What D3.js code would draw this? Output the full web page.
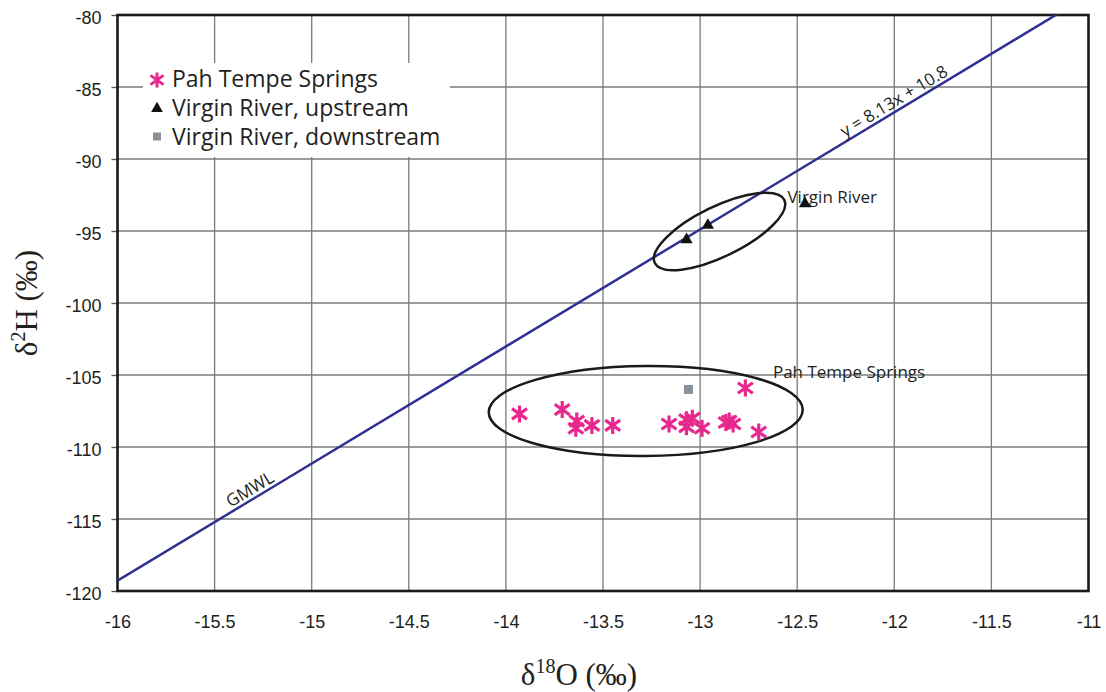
<!DOCTYPE html>
<html><head><meta charset="utf-8">
<script src="https://cdn.jsdelivr.net/npm/d3@7"></script>
<style>body{margin:0;background:#fff}svg{display:block}</style>
</head><body>
<svg id="c" width="1106" height="692"></svg>
<script>
// ---- data ----
const pahO = [-13.93, -13.71, -13.635, -13.64, -13.557, -13.45, -13.16, -13.07, -13.04, -13.07, -12.99, -12.867, -12.85, -12.83, -12.767, -12.698];
const pahH = [-107.7, -107.4, -108.2, -108.7, -108.5, -108.5, -108.4, -108.1, -108.0, -108.6, -108.7, -108.3, -108.2, -108.4, -105.9, -108.96];
const upO = [-13.07, -12.96, -12.46];
const upH = [-95.6, -94.6, -93.1];
const downO = [-13.06];
const downH = [-106.0];
const xTicks = [-16, -15.5, -15, -14.5, -14, -13.5, -13, -12.5, -12, -11.5, -11];
const yTicks = [-80, -85, -90, -95, -100, -105, -110, -115, -120];
const gmwlSlope = 8.13, gmwlIntercept = 10.8;
const legendLabels = ["Pah Tempe Springs", "Virgin River, upstream", "Virgin River, downstream"];
const groupCenters = [{name: "Virgin River", o: -12.90, h: -95.03}, {name: "Pah Tempe Springs", o: -13.28, h: -107.5}];
const labelPos = [{text: "Virgin River", o: -12.55, h: -93.06}, {text: "Pah Tempe Springs", o: -12.625, h: -105.2}];

// ---- scales ----
const svg = d3.select("#c");
const x = d3.scaleLinear().domain([-16, -11]).range([117.5, 1088.5]);
const y = d3.scaleLinear().domain([-80, -120]).range([15, 591]);
const pink = "#e8288c", blue = "#2e3192", ink = "#231f20";

// grid
svg.append("g").selectAll("line").data(xTicks.slice(1, -1)).join("line")
  .attr("x1", d => x(d)).attr("x2", d => x(d)).attr("y1", y(-80)).attr("y2", y(-120))
  .attr("stroke", "#7a7a7a").attr("stroke-width", 1.3);
svg.append("g").selectAll("line").data(yTicks.slice(1, -1)).join("line")
  .attr("y1", d => y(d)).attr("y2", d => y(d)).attr("x1", x(-16)).attr("x2", x(-11))
  .attr("stroke", "#7a7a7a").attr("stroke-width", 1.3);

// y axis ticks & labels
const yAxis = d3.axisLeft(y).tickValues(yTicks).tickSize(6).tickPadding(10).tickFormat(d => String(d));
const gy = svg.append("g").attr("transform", `translate(${x(-16)},0)`).call(yAxis);
gy.select(".domain").remove();
gy.selectAll(".tick line").attr("stroke", "#555").attr("stroke-width", 1.3);
gy.selectAll(".tick text").attr("font-family", "Liberation Sans, Arial, sans-serif").attr("font-size", 18).attr("fill", ink).attr("dy", "0.45em");

// x axis labels
const xAxis = d3.axisBottom(x).tickValues(xTicks).tickSize(0).tickPadding(24).tickFormat(d => String(d));
const gx = svg.append("g").attr("transform", `translate(0,${y(-120)})`).call(xAxis);
gx.select(".domain").remove();
gx.selectAll(".tick text").attr("font-family", "Liberation Sans, Arial, sans-serif").attr("font-size", 18).attr("fill", ink);

// frame
svg.append("rect").attr("x", x(-16)).attr("y", y(-80)).attr("width", x(-11) - x(-16)).attr("height", y(-120) - y(-80))
  .attr("fill", "none").attr("stroke", "#1a1a1a").attr("stroke-width", 2.6);

// clip for GMWL
svg.append("clipPath").attr("id", "pc").append("rect").attr("x", x(-16)).attr("y", y(-80)).attr("width", x(-11) - x(-16)).attr("height", y(-120) - y(-80));

// GMWL
const line = d3.line().x(d => x(d)).y(d => y(gmwlSlope * d + gmwlIntercept));
svg.append("path").attr("clip-path", "url(#pc)").datum([-16, -11]).attr("d", line)
  .attr("fill", "none").attr("stroke", blue).attr("stroke-width", 2.5);
const ang = Math.atan2(y(gmwlSlope * -11 + gmwlIntercept) - y(gmwlSlope * -16 + gmwlIntercept), x(-11) - x(-16)) * 180 / Math.PI;
function lineLabel(o, txt, off) {
  svg.append("text").attr("transform", `translate(${x(o)},${y(gmwlSlope * o + gmwlIntercept)}) rotate(${ang}) translate(0,${-off})`)
    .attr("text-anchor", "middle").attr("font-family", "Open Sans, sans-serif").attr("font-size", 17).attr("fill", ink).text(txt);
}
lineLabel(-11.976, "y = 8.13x + 10.8", 4);
lineLabel(-15.292, "GMWL", 4);

// ellipses
const ellSize = [{rx: 72, ry: 25, rot: -26}, {rx: 157, ry: 45, rot: -0.5}];
groupCenters.forEach((c, i) => {
  svg.append("ellipse").attr("cx", 0).attr("cy", 0).attr("rx", ellSize[i].rx).attr("ry", ellSize[i].ry)
    .attr("transform", `translate(${x(c.o)},${y(c.h)}) rotate(${ellSize[i].rot})`)
    .attr("fill", "none").attr("stroke", "#1a1a1a").attr("stroke-width", 2.5);
});
labelPos.forEach(l => {
  svg.append("text").attr("x", x(l.o)).attr("y", y(l.h)).attr("font-family", "Open Sans, sans-serif")
    .attr("font-size", 17).attr("fill", ink).text(l.text);
});

// markers
function star(g, cx, cy, w, h, sw) {
  const p = `M${cx},${cy - h}L${cx},${cy + h}M${cx - w},${cy - h * 0.62}L${cx + w},${cy + h * 0.62}M${cx - w},${cy + h * 0.62}L${cx + w},${cy - h * 0.62}`;
  g.append("path").attr("d", p).attr("stroke", pink).attr("stroke-width", sw).attr("fill", "none");
}
const tri = d3.symbol().type(d3.symbolTriangle);
const ptsG = svg.append("g");
pahO.forEach((o, i) => star(ptsG, x(o), y(pahH[i]), 7.5, 8.5, 3.2));
ptsG.selectAll("path.up").data(upO).join("path").attr("class", "up")
  .attr("d", tri.size(65)).attr("transform", (d, i) => `translate(${x(d)},${y(upH[i])})`).attr("fill", "#111");
ptsG.selectAll("rect.dn").data(downO).join("rect").attr("class", "dn")
  .attr("x", d => x(d) - 4.5).attr("y", (d, i) => y(downH[i]) - 4.5).attr("width", 9).attr("height", 9).attr("fill", "#8a9198");

// legend
const lg = svg.append("g");
lg.append("rect").attr("x", 143).attr("y", 63).attr("width", 307).attr("height", 94).attr("fill", "#fff");
star(lg, 157, 80, 6.5, 7.5, 3);
lg.append("path").attr("d", tri.size(60)).attr("transform", "translate(157,108.5)").attr("fill", "#111");
lg.append("rect").attr("x", 153).attr("y", 132.5).attr("width", 8).attr("height", 8).attr("fill", "#8a9198");
lg.selectAll("text").data(legendLabels).join("text").attr("x", 172).attr("y", (d, i) => 87 + i * 29)
  .attr("font-family", "Open Sans, sans-serif").attr("font-size", 23).attr("fill", ink).text(d => d);

// axis titles
const xt = svg.append("text").attr("x", 579).attr("y", 685).attr("text-anchor", "middle")
  .attr("font-family", "Liberation Serif, Times New Roman, serif").attr("font-size", 31).attr("fill", ink);
xt.append("tspan").text("δ");
xt.append("tspan").attr("font-size", 20).attr("dy", -12).text("18");
xt.append("tspan").attr("dy", 12).text("O (‰)");
const yt = svg.append("text").attr("transform", "translate(37,303) rotate(-90)").attr("text-anchor", "middle")
  .attr("font-family", "Liberation Serif, Times New Roman, serif").attr("font-size", 31).attr("fill", ink);
yt.append("tspan").text("δ");
yt.append("tspan").attr("font-size", 20).attr("dy", -12).text("2");
yt.append("tspan").attr("dy", 12).text("H (‰)");
</script>
</body></html>
